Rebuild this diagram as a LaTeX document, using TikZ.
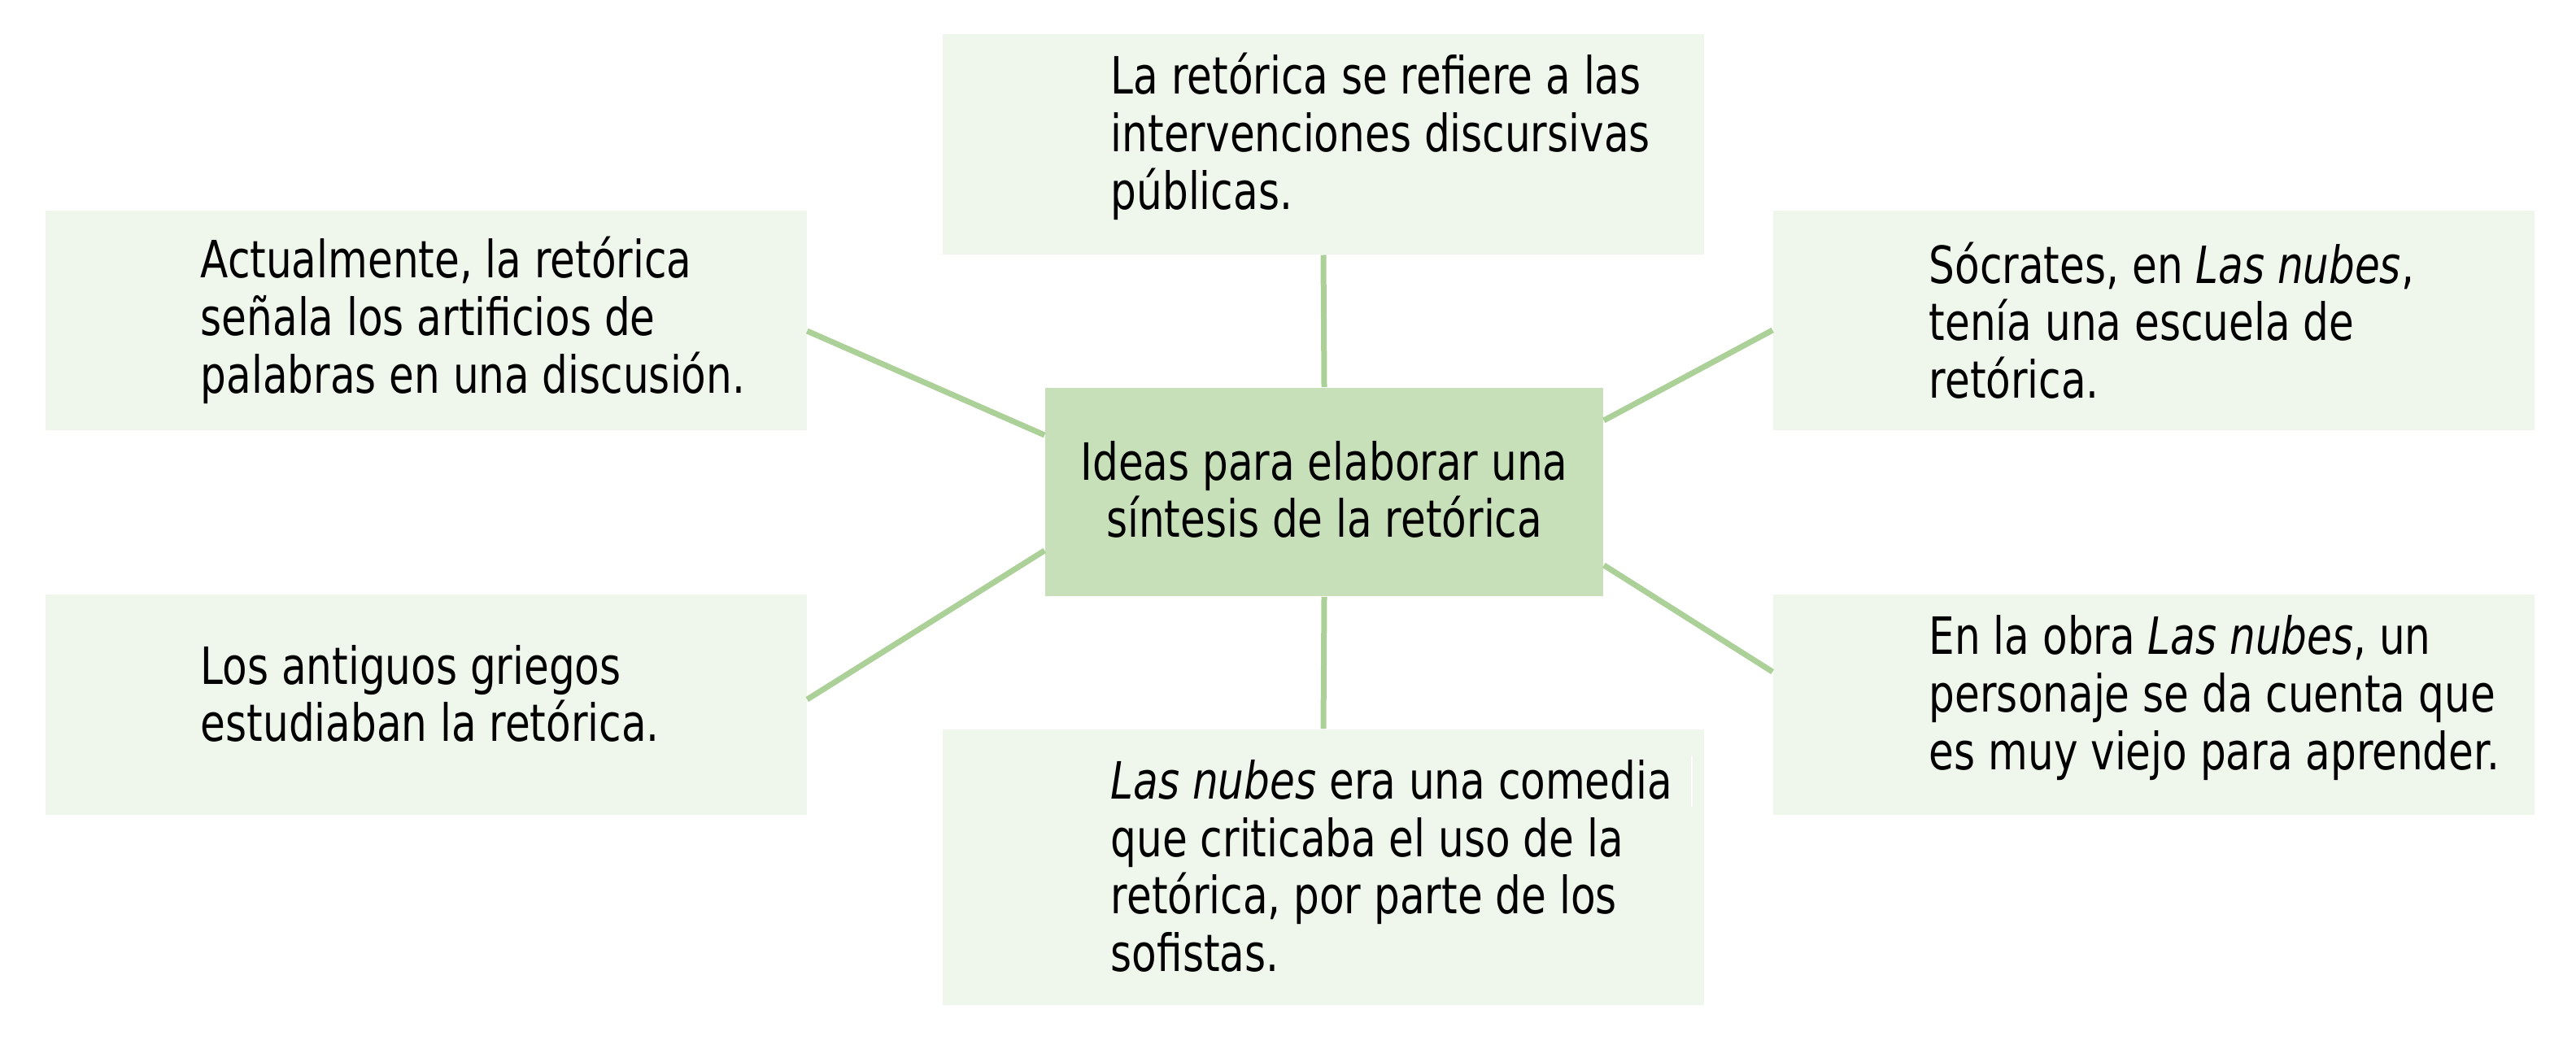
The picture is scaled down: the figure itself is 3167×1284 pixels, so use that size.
\documentclass[tikz,border=0pt]{standalone}
\usepackage{fontspec}
\setmainfont{DejaVu Sans Condensed}[FakeStretch=0.88]
\definecolor{boxlight}{HTML}{EFF6EC}
\definecolor{boxdark}{HTML}{C7E0BA}
\definecolor{linkgreen}{HTML}{ACD198}
\tikzset{
  idea/.style={rectangle, fill=boxlight, inner sep=0pt, minimum width=234pt, minimum height=67.6pt},
  hub/.style={rectangle, fill=boxdark, inner sep=0pt, minimum width=171.5pt, minimum height=64pt},
  txt/.style={anchor=west, inner sep=0pt, align=left, font=\fontsize{15.8pt}{17.7pt}\selectfont},
  link/.style={draw=linkgreen, line width=1.75pt}
}
\begin{document}
\begin{tikzpicture}[x=0.25pt,y=-0.25pt]
\useasboundingbox (0,0) rectangle (3167,1284);
% boxes
\node[idea] (top) at (1627,177.5) {};
\node[idea] (lu) at (523.5,394) {};
\node[idea] (ru) at (2648,394) {};
\node[hub] (c) at (1628,605) {};
\node[idea] (ll) at (523.5,866.5) {};
\node[idea] (rl) at (2648,866.5) {};
\node[idea, minimum height=84.75pt] (bot) at (1627,1066.5) {};
% texts
\node[txt] (ttop) at (1365,168) {La retórica se refiere a las\\intervenciones discursivas\\públicas.};
\node[txt] (tlu) at (246,394) {Actualmente, la retórica\\señala los artificios de\\palabras en una discusión.};
\node[txt] (tru) at (2371,394) {Sócrates, en \textit{Las nubes},\\tenía una escuela de\\retórica.};
\node[txt, anchor=center, align=center] (tc) at (1628,602) {Ideas para elaborar una\\síntesis de la retórica};
\node[txt] (tll) at (246,853) {Los antiguos griegos\\estudiaban la retórica.};
\node[txt] (trl) at (2371,858) {En la obra \textit{Las nubes}, un\\personaje se da cuenta que\\es muy viejo para aprender.};
\node[txt] (tbot) at (1365,1065) {\textit{Las nubes} era una comedia\\que criticaba el uso de la\\retórica, por parte de los\\sofistas.};
% connectors
\draw[link] (top.south) -- (c.north);
\draw[link] (c.south) -- (bot.north);
\draw[link] ([yshift=-3.25pt]lu.east) -- ([yshift=17.5pt]c.west);
\draw[link] ([yshift=22pt]c.east) -- ([yshift=-3pt]ru.west);
\draw[link] ([yshift=1.6pt]ll.east) -- ([yshift=-18pt]c.west);
\draw[link] ([yshift=-22.5pt]c.east) -- ([yshift=10.1pt]rl.west);
% small white mark in the bottom box
\coordinate (m1) at (2080,930);
\coordinate (m2) at (2080,992);
\draw[white, line width=0.4pt] (m1) -- (m2);
\end{tikzpicture}
\end{document}
